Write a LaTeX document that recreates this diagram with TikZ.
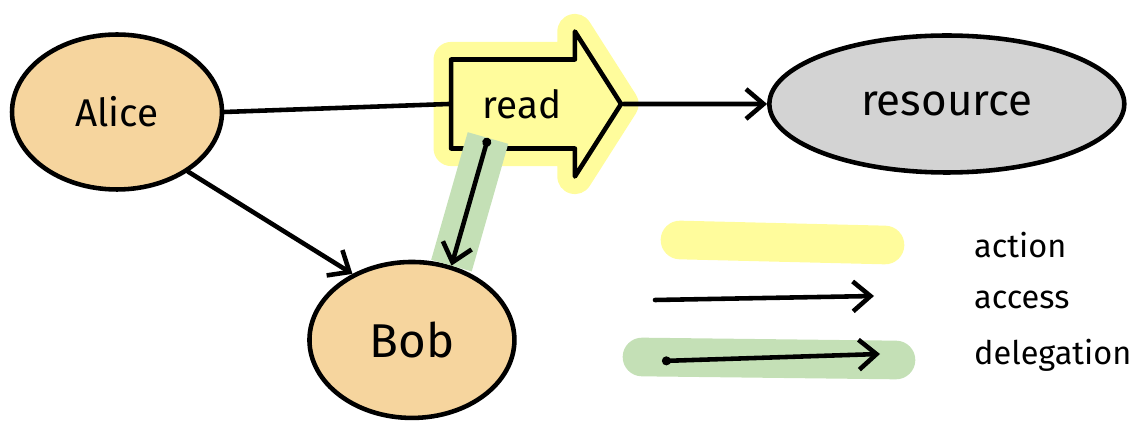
\documentclass[tikz,border=0pt]{standalone}
\usepackage{fontspec}
\setmainfont{Fira Sans}
\usetikzlibrary{shapes.geometric,shapes.arrows,arrows.meta}

\definecolor{peach}{HTML}{F6D59E}
\definecolor{stone}{HTML}{D3D3D3}
\definecolor{marker}{HTML}{FFFC9C}
\definecolor{moss}{HTML}{C4E0B6}

\tikzset{
  hand/.style={line width=2.6pt, line cap=round, line join=round},
  access/.style={hand, -{Straight Barb[length=10pt,width=17pt]}},
  delegation/.style={hand, {Circle[length=5pt]}-{Straight Barb[length=10pt,width=17pt]}},
}

\begin{document}
\begin{tikzpicture}[x=0.02cm, y=-0.02cm]
\useasboundingbox (0,0) rectangle (1144,425);

\node (alice) at (117,112) [draw, hand, ellipse, minimum width=4.2cm, minimum height=3.1cm, fill=peach, font=\fontsize{22}{26}\selectfont] {Alice};

\node (read) [draw, hand, single arrow, right of=alice, node distance=8.1cm, yshift=0.16cm, fill=marker, preaction={draw=marker, line width=20pt}, minimum height=3.4cm, inner ysep=0.55cm, single arrow head extend=0.56cm, single arrow tip angle=115, font=\fontsize{22}{26}\selectfont] {read};

\node (resource) [draw, hand, ellipse, right of=read, node distance=8.5cm, minimum width=7.1cm, minimum height=2.74cm, fill=stone, font=\fontsize{25}{30}\selectfont] {resource};

\node (bob) [draw, hand, ellipse, below of=alice, node distance=4.56cm, xshift=5.9cm, minimum width=4.1cm, minimum height=3.12cm, fill=peach, font=\fontsize{27}{32}\selectfont] {Bob};

\coordinate (grant) at (488,138);

\draw[hand] (alice.east) -- (read.west);
\draw[access] (read.east) -- (resource.west);
\draw[access] (alice.-40) -- (bob.132);
\draw[delegation, preaction={draw=moss, line width=24pt, -}] (grant) -- (bob.62);

% legend
\coordinate (act1) at (680,240);
\coordinate (act2) at (885,245);
\coordinate (acc1) at (655,300);
\coordinate (acc2) at (874,296);
\coordinate (del1) at (662,361);
\coordinate (del2) at (880,354);

\draw[marker, line width=22pt, line cap=round] (act1) -- (act2);
\draw[access] (acc1) -- (acc2);
\draw[moss, line width=22pt, line cap=round] (642,357) -- (896,360);
\draw[delegation] (del1) -- (del2);

\node (lact) at (968,245) [anchor=west, font=\fontsize{18.5}{22}\selectfont] {action};
\node (lacc) at (968,300) [anchor=west, font=\fontsize{18.5}{22}\selectfont] {access};
\node (ldel) at (968,355) [anchor=west, font=\fontsize{18.5}{22}\selectfont] {delegation};

\end{tikzpicture}
\end{document}
